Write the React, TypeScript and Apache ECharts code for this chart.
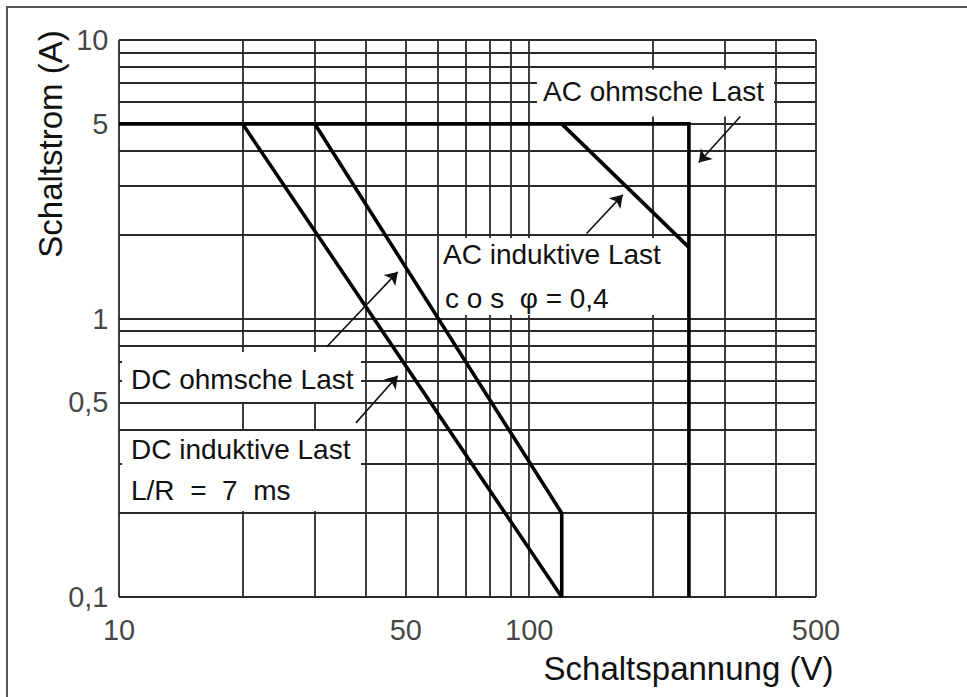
import React, { useEffect, useRef } from "react";
import * as echarts from "echarts";

// Grid values (log-log paper)
const xGridValues = [10, 20, 30, 40, 50, 60, 70, 80, 90, 100, 200, 300, 400, 500];
const yGridValues = [0.1, 0.2, 0.3, 0.4, 0.5, 0.6, 0.7, 0.8, 0.9, 1, 2, 3, 4, 5, 6, 7, 8, 9, 10];

// Tick labels
const xTickLabels = [10, 50, 100, 500];
const yTickLabels = [0.1, 0.5, 1, 5, 10];

// Curves: [Schaltspannung (V), Schaltstrom (A)]
const acOhmscheLast = [[10, 5], [245, 5], [245, 0.1]];
const acInduktiveLast = [[120, 5], [245, 1.8]];
const dcOhmscheLast = [[30, 5], [120, 0.2], [120, 0.1]];
const dcInduktiveLast = [[20, 5], [120, 0.1]];

// Annotation arrows (from -> to), in data units
const arrowAcOhm = [[327, 5.31], [259, 3.63]];
const arrowAcInd = [[138, 2.02], [169, 2.78]];
const arrowDcOhm = [[32.1, 0.792], [47.8, 1.47]];
const arrowDcInd = [[37.8, 0.422], [47.8, 0.623]];

const FONT = "'Liberation Sans', Arial, sans-serif";
const INK = "#111";

export default function App() {
  const ref = useRef<HTMLDivElement>(null);

  useEffect(() => {
    if (!ref.current) return;
    const chart = echarts.init(ref.current, null, { renderer: "svg" });

    const xMin = xGridValues[0];
    const xMax = xGridValues[xGridValues.length - 1];
    const yMin = yGridValues[0];
    const yMax = yGridValues[yGridValues.length - 1];

    const gridLines = [
      ...xGridValues.map((x) => ({ coords: [[x, yMin], [x, yMax]] })),
      ...yGridValues.map((y) => ({ coords: [[xMin, y], [xMax, y]] })),
    ];

    const curve = (name: string, data: number[][]) => ({
      type: "line",
      name,
      data,
      symbol: "none",
      showSymbol: false,
      clip: false,
      z: 3,
      lineStyle: { color: "#000", width: 3.6, join: "miter" },
    });

    const textEl = (text: string, x: number, y: number, size = 28) => ({
      type: "text",
      x,
      y,
      z: 10,
      style: {
        text,
        fontSize: size,
        fontFamily: FONT,
        fill: INK,
        textAlign: "left",
        textVerticalAlign: "middle",
        align: "left",
        verticalAlign: "middle",
      },
    });

    const box = (x: number, y: number, w: number, h: number) => ({
      type: "rect",
      z: 2,
      shape: { x, y, width: w, height: h },
      style: { fill: "#fff", stroke: "none" },
    });

    const option: any = {
      animation: false,
      backgroundColor: "#fff",
      grid: { left: 119, top: 40, right: 151, bottom: 100, outerBoundsMode: "none" },
      xAxis: {
        type: "log",
        logBase: 10,
        min: xMin,
        max: xMax,
        axisLine: { show: false },
        axisTick: { show: false },
        axisLabel: { show: false },
        splitLine: { show: false },
        minorSplitLine: { show: false },
        name: "Schaltspannung (V)",
        nameLocation: "middle",
        nameGap: 55,
        nameTextStyle: {
          fontSize: 33,
          fontFamily: FONT,
          color: INK,
          padding: [0, 0, 0, 442],
        },
      },
      yAxis: {
        type: "log",
        logBase: 10,
        min: yMin,
        max: yMax,
        axisLine: { show: false },
        axisTick: { show: false },
        axisLabel: { show: false },
        splitLine: { show: false },
        name: "Schaltstrom (A)",
        nameLocation: "middle",
        nameGap: 52,
        nameTextStyle: {
          fontSize: 33,
          fontFamily: FONT,
          color: INK,
          padding: [0, 0, 0, 349],
        },
      },
      series: [
        {
          type: "lines",
          name: "grid",
          coordinateSystem: "cartesian2d",
          data: gridLines,
          silent: true,
          clip: false,
          z: 1,
          symbol: "none",
          lineStyle: { color: "#2a2a2a", width: 1.8, opacity: 1 },
        },
        curve("AC ohmsche Last", acOhmscheLast),
        curve("AC induktive Last", acInduktiveLast),
        curve("DC ohmsche Last", dcOhmscheLast),
        curve("DC induktive Last", dcInduktiveLast),
        {
          type: "lines",
          name: "arrows",
          coordinateSystem: "cartesian2d",
          data: [arrowAcOhm, arrowAcInd, arrowDcOhm, arrowDcInd].map((c) => ({ coords: c })),
          silent: true,
          clip: false,
          z: 4,
          symbol: ["none", "arrow"],
          symbolSize: 12,
          lineStyle: { color: INK, width: 1.6, opacity: 1 },
        },
        {
          type: "scatter",
          name: "yTicks",
          data: yTickLabels.map((v) => [xMin, v]),
          symbolSize: 1,
          itemStyle: { color: "rgba(0,0,0,0)" },
          clip: false,
          silent: true,
          z: 5,
          label: {
            show: true,
            position: "left",
            distance: 10,
            fontSize: 29,
            fontFamily: FONT,
            color: INK,
            formatter: (p: any) => String(p.value[1]).replace(".", ","),
          },
        },
        {
          type: "scatter",
          name: "xTicks",
          data: xTickLabels.map((v) => [v, yMin]),
          symbolSize: 1,
          itemStyle: { color: "rgba(0,0,0,0)" },
          clip: false,
          silent: true,
          z: 5,
          label: {
            show: true,
            position: "bottom",
            distance: 18,
            fontSize: 29,
            fontFamily: FONT,
            color: INK,
            formatter: (p: any) => String(p.value[0]),
          },
        },
      ],
      graphic: {
        elements: [
          {
            type: "rect",
            z: 0,
            shape: { x: 7, y: 7, width: 1000, height: 1000 },
            style: { fill: "none", stroke: "#555", lineWidth: 2 },
          },
          box(537, 69.5, 237, 47),
          box(439, 238, 251, 77),
          box(122, 352, 239, 50),
          box(122, 431, 239, 80),
          textEl("AC ohmsche Last", 543, 91),
          textEl("AC induktive Last", 443, 254),
          textEl("c o s  φ = 0,4", 445, 298),
          textEl("DC ohmsche Last", 131, 379),
          textEl("DC induktive Last", 131, 449),
          textEl("L/R  =  7  ms", 131, 490),
        ],
      },
    };

    chart.setOption(option);
    return () => chart.dispose();
  }, []);

  return (
    <div
      ref={ref}
      style={{ position: "fixed", left: 0, top: 0, width: 967, height: 697, background: "#fff" }}
    />
  );
}
